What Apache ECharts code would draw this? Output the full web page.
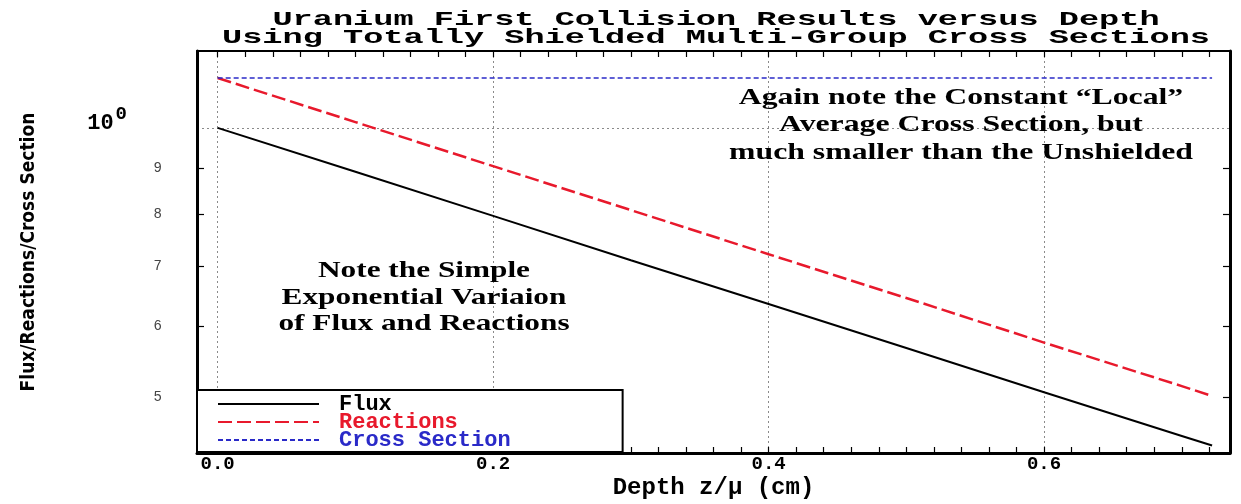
<!DOCTYPE html>
<html>
<head>
<meta charset="utf-8">
<script src="https://cdn.jsdelivr.net/npm/echarts@6/dist/echarts.min.js"></script>
<style>
html,body{margin:0;padding:0;background:#fff;}
#chart{width:1241px;height:504px;}
</style>
</head>
<body>
<div id="chart"></div>
<script>
// ---- data ----
const depth        = [0, 0.1, 0.2, 0.3, 0.4, 0.5, 0.6, 0.7, 0.722];
const flux         = [1.000, 0.893, 0.797, 0.711, 0.635, 0.567, 0.506, 0.452, 0.441];
const reactions    = [1.137, 1.015, 0.906, 0.809, 0.722, 0.645, 0.575, 0.514, 0.501];
const crossSection = [1.137, 1.137, 1.137, 1.137, 1.137, 1.137, 1.137, 1.137, 1.137];

const seriesNames  = ['Flux', 'Reactions', 'Cross Section'];
const xLabelValues = [0, 0.2, 0.4, 0.6];
const xMinorTicks  = [0, 0.02, 0.04, 0.06, 0.08, 0.1, 0.12, 0.14, 0.16, 0.18,
                      0.2, 0.22, 0.24, 0.26, 0.28, 0.3, 0.32, 0.34, 0.36, 0.38,
                      0.4, 0.42, 0.44, 0.46, 0.48, 0.5, 0.52, 0.54, 0.56, 0.58,
                      0.6, 0.62, 0.64, 0.66, 0.68, 0.7, 0.72];
const yTickValues  = [0.5, 0.6, 0.7, 0.8, 0.9];
const yLabelValues = [0.5, 0.6, 0.7, 0.8, 0.9, 1];
const yGridValues  = [1];

const titleText = 'Uranium First Collision Results versus Depth\nUsing Totally Shielded Multi-Group Cross Sections';
const xName = 'Depth z/\u03bc (cm)';
const yName = 'Flux/Reactions/Cross Section';
const note1 = 'Note the Simple\nExponential Variaion\nof Flux and Reactions';
const note2 = 'Again note the Constant \u201cLocal\u201d\nAverage Cross Section, but\nmuch smaller than the Unshielded';

// ---- styles ----
const colors = ['#000000', '#e8192c', '#2a2ac8'];
const MONO = "'Liberation Mono','DejaVu Sans Mono',monospace";
const NARROW = "'Liberation Sans Narrow','DejaVu Sans Condensed','Arial Narrow',sans-serif";
const SERIF = "'Liberation Serif','DejaVu Serif',serif";

const pairs = arr => depth.map((d, i) => [d, arr[i]]);

const xRange = {min: -0.015, max: 0.735};
const yRange = {type: 'log', logBase: 10, min: 0.4326, max: 1.219};
const tickStyle = {color: '#000', width: 1.2};

const chart = echarts.init(document.getElementById('chart'), null, {renderer: 'canvas'});

chart.setOption({
  animation: false,
  backgroundColor: '#ffffff',
  grid: {left: 197, right: 11, top: 51, bottom: 51, containLabel: false, outerBoundsMode: 'none'},
  xAxis: [
    {
      type: 'value', ...xRange, position: 'bottom',
      axisLine: {show: true, onZero: false, lineStyle: {color: '#000', width: 3}},
      axisTick: {show: true, inside: true, length: 6, customValues: xMinorTicks, lineStyle: tickStyle},
      axisLabel: {
        customValues: xLabelValues, formatter: v => Number(v).toFixed(1),
        fontFamily: MONO, fontWeight: 'bold', fontSize: 19, color: '#000', margin: 2
      },
      splitLine: {show: false},
      name: xName, nameLocation: 'middle', nameGap: 23, nameMoveOverlap: false,
      nameTextStyle: {fontFamily: MONO, fontWeight: 'bold', fontSize: 24, color: '#000'}
    },
    {
      type: 'value', ...xRange, position: 'top',
      axisLine: {show: true, onZero: false, lineStyle: {color: '#000', width: 2}},
      axisTick: {show: true, inside: true, length: 6, customValues: xMinorTicks, lineStyle: tickStyle},
      axisLabel: {show: false},
      splitLine: {show: false}
    },
    {
      type: 'value', ...xRange, position: 'bottom',
      axisLine: {show: false},
      axisTick: {show: false, customValues: xLabelValues},
      axisLabel: {show: false},
      splitLine: {show: true, lineStyle: {color: '#8a8a8a', width: 1, type: [2, 3]}}
    }
  ],
  yAxis: [
    {
      ...yRange, position: 'left',
      axisLine: {show: true, onZero: false, lineStyle: {color: '#000', width: 3}},
      axisTick: {show: true, inside: true, length: 7, customValues: yTickValues, lineStyle: tickStyle},
      axisLabel: {
        customValues: yLabelValues, margin: 35,
        formatter: v => (v > 0.99 ? '{big|10}{sup|0}' : '{small|' + Math.round(v * 10) + '}'),
        rich: {
          big: {fontFamily: MONO, fontWeight: 'bold', fontSize: 22, color: '#000', verticalAlign: 'bottom', padding: [0, 0, 17, 0]},
          sup: {fontFamily: MONO, fontWeight: 'bold', fontSize: 19, color: '#000', verticalAlign: 'top', padding: [0, 35, 28, 2]},
          small: {fontFamily: MONO, fontSize: 14, color: '#444'}
        }
      },
      splitLine: {show: false},
      name: yName, nameLocation: 'middle', nameRotate: 90, nameGap: 158, nameMoveOverlap: false,
      nameTextStyle: {fontFamily: NARROW, fontWeight: 'bold', fontSize: 19, color: '#000'}
    },
    {
      ...yRange, position: 'right',
      axisLine: {show: true, onZero: false, lineStyle: {color: '#000', width: 3}},
      axisTick: {show: true, inside: true, length: 7, customValues: yTickValues, lineStyle: tickStyle},
      axisLabel: {show: false},
      splitLine: {show: false}
    },
    {
      ...yRange, position: 'left',
      axisLine: {show: false},
      axisTick: {show: false, customValues: yGridValues},
      axisLabel: {show: false},
      splitLine: {show: true, lineStyle: {color: '#8a8a8a', width: 1, type: [2, 3]}}
    }
  ],
  legend: {
    data: seriesNames.map((n, i) => ({name: n, textStyle: {color: colors[i]}})),
    orient: 'vertical', left: 197, top: 390,
    itemWidth: 101, itemHeight: 14, itemGap: -4,
    padding: [3, 112, 1, 20],
    backgroundColor: '#ffffff', borderColor: '#000', borderWidth: 2, borderRadius: 0,
    itemStyle: {opacity: 0},
    textStyle: {fontFamily: MONO, fontWeight: 'bold', fontSize: 22, padding: [0, 0, 0, 15]},
    selectedMode: false, z: 10
  },
  series: [
    {
      name: seriesNames[0], type: 'line', xAxisIndex: 0, yAxisIndex: 0,
      data: pairs(flux), symbol: 'none', silent: true,
      lineStyle: {color: colors[0], width: 2}, itemStyle: {color: colors[0]}
    },
    {
      name: seriesNames[1], type: 'line', xAxisIndex: 0, yAxisIndex: 0,
      data: pairs(reactions), symbol: 'none', silent: true,
      lineStyle: {color: colors[1], width: 2.5, type: [14, 5]}, itemStyle: {color: colors[1]}
    },
    {
      name: seriesNames[2], type: 'line', xAxisIndex: 0, yAxisIndex: 0,
      data: pairs(crossSection), symbol: 'none', silent: true,
      lineStyle: {color: colors[2], width: 1.5, type: [5, 3]}, itemStyle: {color: colors[2]}
    }
  ],
  graphic: [
    {
      type: 'text', x: 716, y: 10, scaleX: 1.6, silent: true,
      style: {text: titleText, fontFamily: MONO, fontWeight: 'bold', fontSize: 21, lineHeight: 18.5,
              fill: '#000', textAlign: 'center', textVerticalAlign: 'top'}
    },
    {
      type: 'text', x: 424, y: 258, scaleX: 1.36, silent: true, z: 5,
      style: {text: note1, fontFamily: SERIF, fontWeight: 'bold', fontSize: 23, lineHeight: 26.5,
              fill: '#000', textAlign: 'center', textVerticalAlign: 'top'}
    },
    {
      type: 'text', x: 961, y: 84, scaleX: 1.38, silent: true, z: 5,
      style: {text: note2, fontFamily: SERIF, fontWeight: 'bold', fontSize: 23, lineHeight: 27.5,
              fill: '#000', textAlign: 'center', textVerticalAlign: 'top'}
    }
  ]
});
</script>
</body>
</html>
